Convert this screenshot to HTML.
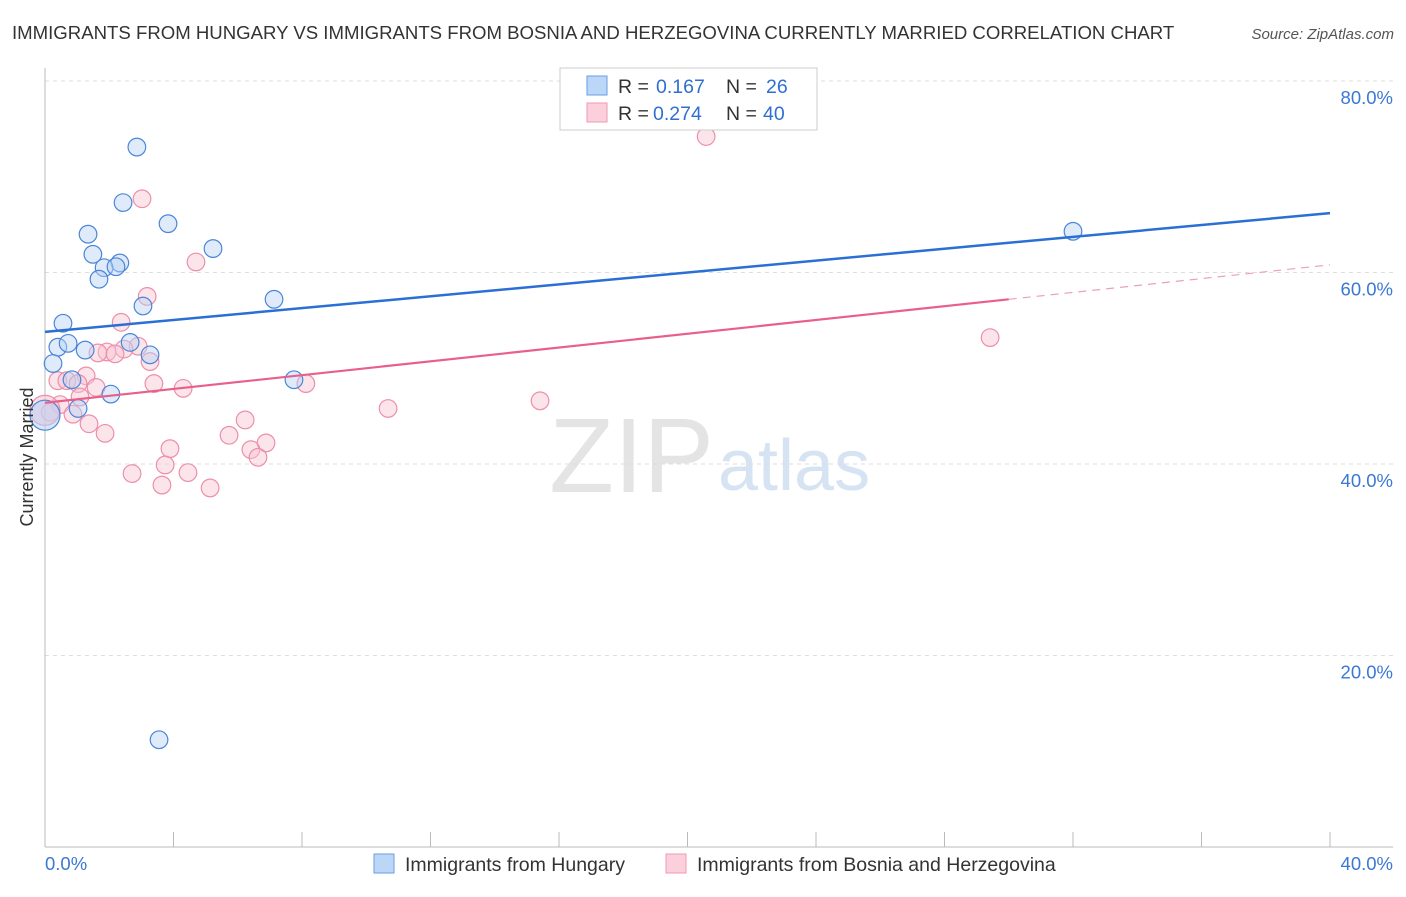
<!DOCTYPE html>
<html><head><meta charset="utf-8"><style>
body{margin:0;background:#fff;font-family:"Liberation Sans",sans-serif;}
svg text{font-family:"Liberation Sans",sans-serif;}
</style></head><body>
<svg id="chart" width="1406" height="892" xmlns="http://www.w3.org/2000/svg">
<text x="12" y="39" font-size="18.6" fill="#333">IMMIGRANTS FROM HUNGARY VS IMMIGRANTS FROM BOSNIA AND HERZEGOVINA CURRENTLY MARRIED CORRELATION CHART</text>
<text x="1394" y="39" font-size="15" fill="#555" text-anchor="end" font-style="italic">Source: ZipAtlas.com</text>
<text x="714" y="492" font-size="106" fill="#e4e4e4" text-anchor="end" font-family="Liberation Serif">ZIP</text>
<text x="718" y="490" font-size="72" fill="#d6e3f3">atlas</text>
<g id="grid"></g><g id="axes"></g><g id="marks"></g>
<text transform="translate(33,457) rotate(-90)" font-size="18" fill="#333" text-anchor="middle">Currently Married</text>
<g>
<rect x="560" y="68" width="257" height="62" fill="#fff" stroke="#ccc"/>
<rect x="587" y="76" width="20" height="19" fill="#bcd6f7" stroke="#6a9ee0"/>
<rect x="587" y="103" width="20" height="19" fill="#fbd0dc" stroke="#ef9ab2"/>
<text x="618" y="93" font-size="19.5" fill="#333">R =</text>
<text x="656" y="93" font-size="19.5" fill="#2f6fd1">0.167</text>
<text x="726" y="93" font-size="19.5" fill="#333">N =</text>
<text x="766" y="93" font-size="19.5" fill="#2f6fd1">26</text>
<text x="618" y="120" font-size="19.5" fill="#333">R =</text>
<text x="653" y="120" font-size="19.5" fill="#2f6fd1">0.274</text>
<text x="726" y="120" font-size="19.5" fill="#333">N =</text>
<text x="763" y="120" font-size="19.5" fill="#2f6fd1">40</text>
</g>
<g>
<rect x="374" y="854" width="20" height="19" fill="#bcd6f7" stroke="#6a9ee0"/>
<text x="405" y="871" font-size="19.5" fill="#333">Immigrants from Hungary</text>
<rect x="666" y="854" width="20" height="19" fill="#fbd0dc" stroke="#ef9ab2"/>
<text x="697" y="871" font-size="19.5" fill="#333">Immigrants from Bosnia and Herzegovina</text>
</g>
</svg>
<script>
const blueX=[2.86,2.43,3.83,1.34,5.23,1.49,2.33,1.84,2.21,1.68,3.05,7.13,0.56,2.65,0.40,0.72,1.25,3.27,0.25,0.84,2.05,1.03,7.75,32.0,3.55,0];
const blueY=[73.1,67.3,65.1,64.0,62.5,61.9,61.0,60.5,60.6,59.3,56.5,57.2,54.7,52.7,52.2,52.6,51.9,51.4,50.5,48.8,47.3,45.8,48.8,64.3,11.2,45.1];
const pinkX=[20.58,3.02,4.70,3.18,2.37,29.42,2.90,2.46,1.93,1.65,2.18,3.27,0.40,0.68,1.28,1.59,3.39,4.30,8.12,1.03,1.09,0.47,0.87,1.37,1.87,10.68,15.41,6.23,5.73,3.89,6.88,6.41,6.63,3.74,2.71,4.45,3.64,5.14,0.16,0];
const pinkY=[74.2,67.7,61.1,57.5,54.8,53.2,52.3,52.0,51.7,51.6,51.5,50.7,48.7,48.7,49.2,48.0,48.4,47.9,48.4,48.4,47.0,46.2,45.2,44.2,43.2,45.8,46.6,44.6,43.0,41.6,42.2,41.5,40.7,39.9,39.0,39.1,37.8,37.5,45.4,45.6];
const blueTrend=[53.8,66.2];
const pinkTrend=[46.4,60.8];
const pinkSolidEnd=30;
const yTicks=[20,40,60,80];
const yTickLabels=["20.0%","40.0%","60.0%","80.0%"];
const xTicks=[0,4,8,12,16,20,24,28,32,36,40];
const NS="http://www.w3.org/2000/svg";
const X=v=>45+v/40*1285;
const Y=v=>847-v*9.575;
function mk(tag,at,parent){const e=document.createElementNS(NS,tag);for(const k in at)e.setAttribute(k,at[k]);document.getElementById(parent).appendChild(e);return e;}
yTicks.forEach((t,i)=>{
 const l=mk('line',{x1:45,x2:1393,y1:Y(t),y2:Y(t),stroke:'#ddd','stroke-dasharray':'4,4'},'grid');
 
 
 const tx=mk('text',{x:1393,y:Y(t)+23,'font-size':18.5,fill:'#3a78d4','text-anchor':'end'},'axes');
 tx.textContent=yTickLabels[i];
 
 
});
let a=mk('line',{x1:45,x2:45,y1:68,y2:847,stroke:'#bbb'},'axes');


a=mk('line',{x1:45,x2:1393,y1:847,y2:847,stroke:'#bbb'},'axes');


xTicks.forEach(t=>{const l=mk('line',{x1:X(t),x2:X(t),y1:832,y2:847,stroke:'#bbb'},'axes');
 
 });
let t0=mk('text',{x:45,y:870,'font-size':18.5,fill:'#3a78d4'},'axes');t0.textContent='0.0%';


let t1=mk('text',{x:1393,y:870,'font-size':18.5,fill:'#3a78d4','text-anchor':'end'},'axes');t1.textContent='40.0%';


function pts(xs,ys,fill,stroke,name){xs.forEach((x,i)=>{const big=(i===xs.length-1);
 const c=mk('circle',{cx:X(x),cy:Y(ys[i]),r:big?15:8.8,fill:fill,'fill-opacity':big?0.55:0.45,stroke:stroke,'stroke-width':1.2},'marks');
 
 });}
pts(pinkX,pinkY,'#f9c3d3','#ec8fab','bosnia-point');
pts(blueX,blueY,'#b7d2f4','#4a86d8','hungary-point');
let l=mk('line',{x1:X(0),y1:Y(blueTrend[0]),x2:X(40),y2:Y(blueTrend[1]),stroke:'#2a6fd3','stroke-width':2.5},'marks');


const py=x=>pinkTrend[0]+(pinkTrend[1]-pinkTrend[0])*x/40;
l=mk('line',{x1:X(0),y1:Y(py(0)),x2:X(pinkSolidEnd),y2:Y(py(pinkSolidEnd)),stroke:'#e8608a','stroke-width':2.2},'marks');


l=mk('line',{x1:X(pinkSolidEnd),y1:Y(py(pinkSolidEnd)),x2:X(40),y2:Y(py(40)),stroke:'#eca0b8','stroke-width':1.2,'stroke-dasharray':'8,6'},'marks');


</script>
</body></html>
